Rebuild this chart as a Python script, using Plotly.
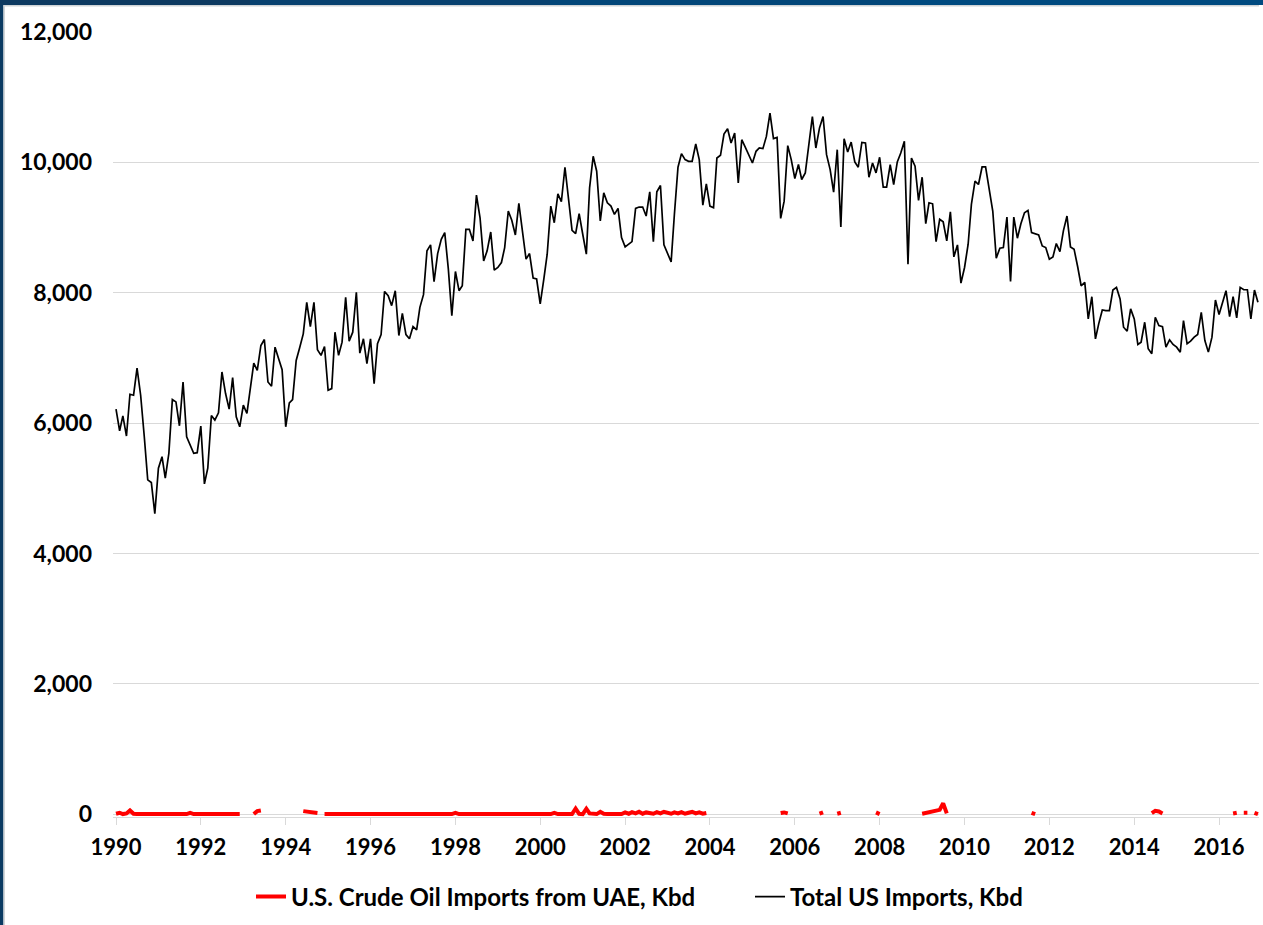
import pandas as pd
import plotly.graph_objects as go

# Monthly values, Jan 1990 - Dec 2016 (Kbd)
dates = pd.date_range("1990-01-01", "2016-12-01", freq="MS")

total_imports = [
    6215, 5884, 6113, 5803, 6444, 6429, 6846, 6429, 5800, 5131, 5090, 4612,
    5309, 5487, 5157, 5539, 6363, 6327, 5960, 6632, 5792, 5680, 5539, 5548,
    5955, 5070, 5309, 6118, 6047, 6158, 6785, 6455, 6215, 6698, 6097, 5945,
    6276, 6149, 6505, 6922, 6810, 7192, 7284, 6632, 6566, 7166, 6989, 6821,
    5945, 6311, 6363, 6963, 7157, 7370, 7854, 7482, 7854, 7126, 7040, 7177,
    6505, 6531, 7396, 7040, 7243, 7930, 7258, 7396, 8006, 7075, 7294, 6913,
    7294, 6607, 7218, 7360, 8021, 7956, 7803, 8032, 7345, 7685, 7360, 7294,
    7482, 7432, 7777, 7971, 8643, 8735, 8170, 8602, 8821, 8923, 8363, 7650,
    8327, 8032, 8108, 8974, 8974, 8796, 9498, 9151, 8490, 8643, 8933, 8348,
    8388, 8464, 8693, 9254, 9112, 8887, 9372, 8898, 8516, 8602, 8226, 8211,
    7829, 8211, 8592, 9330, 9075, 9518, 9396, 9926, 9448, 8959, 8908, 9213,
    8898, 8592, 9610, 10094, 9865, 9101, 9533, 9381, 9330, 9203, 9295, 8846,
    8704, 8745, 8785, 9295, 9315, 9315, 9177, 9549, 8785, 9549, 9646, 8735,
    8617, 8475, 9200, 9926, 10134, 10043, 10017, 10017, 10282, 10043, 9345, 9671,
    9330, 9304, 10068, 10109, 10435, 10517, 10297, 10450, 9686, 10348, 10231, 10109,
    9991, 10170, 10221, 10211, 10399, 10755, 10364, 10384, 9142, 9406, 10257, 10043,
    9753, 9967, 9738, 9839, 10297, 10704, 10221, 10526, 10704, 10119, 9890, 9544,
    10195, 9009, 10364, 10160, 10312, 10007, 9926, 10307, 10297, 9773, 9991, 9839,
    10078, 9620, 9620, 9967, 9661, 10007, 10144, 10323, 8440, 10068, 9941, 9417,
    9773, 9060, 9381, 9365, 8785, 9127, 9090, 8796, 9243, 8551, 8735, 8149,
    8388, 8745, 9355, 9712, 9661, 9930, 9930, 9600, 9254, 8531, 8684, 8694,
    9162, 8174, 9162, 8837, 9060, 9228, 9264, 8923, 8908, 8887, 8719, 8694,
    8516, 8551, 8755, 8633, 8949, 9177, 8704, 8669, 8399, 8108, 8159, 7600,
    7940, 7294, 7523, 7737, 7727, 7727, 8042, 8083, 7905, 7472, 7411, 7753,
    7600, 7207, 7243, 7548, 7141, 7065, 7625, 7498, 7482, 7166, 7279, 7207,
    7166, 7090, 7574, 7218, 7258, 7319, 7360, 7701, 7268, 7090, 7319, 7890,
    7666, 7869, 8032, 7635, 7940, 7615, 8083, 8047, 8047, 7600, 8042, 7854,
]

N = None
uae_imports = [
    10, 25, 5, 15, 60, 10, 5, 5, 5, 5, 5, 5,            # 1990
    5, 5, 5, 5, 5, 5, 5, 5, 5, 25, 5, 5,                # 1991
    5, 5, 5, 5, 5, 5, 5, 5, 5, 5, 5, 5,                 # 1992
    N, N, N, 5, 50, 60, N, N, N, N, N, N,               # 1993
    N, N, N, N, N, 50, 40, 30, 25, 20, N, 5,            # 1994
    5, 5, 5, 5, 5, 20, 5, 5, 5, 5, 5, 5,                # 1995
    5, 5, 5, 20, 5, 5, 5, 20, 5, 5, 5, 5,               # 1996
    5, 5, 5, 5, 5, 5, 5, 5, 5, 5, 5, 5,                 # 1997
    25, 5, 5, 5, 5, 5, 5, 5, 5, 5, 5, 5,                # 1998
    5, 5, 5, 5, 5, 5, 5, 5, 5, 5, 5, 20,                # 1999
    5, 5, 5, 5, 25, 5, 5, 5, 5, 5, 90, 10,              # 2000
    5, 85, 15, 5, 5, 40, 10, 5, 5, 5, 5, 5,             # 2001
    30, 10, 35, 15, 40, 10, 30, 20, 10, 35, 15, 40,     # 2002
    20, 10, 30, 15, 35, 10, 25, 40, 15, 30, 10, 20,     # 2003
    N, N, N, N, N, N, N, N, N, N, N, N,                 # 2004
    N, N, N, N, N, N, N, N, 20, 30, 15, N,              # 2005
    N, N, N, N, N, N, N, 10, 30, N, N, N,               # 2006
    10, 25, N, N, N, N, N, N, N, N, N, 30,              # 2007
    5, N, N, N, N, N, N, N, N, N, N, N,                 # 2008
    10, 20, 30, 35, 45, 70, 170, 15, N, N, N, N,        # 2009
    N, N, N, N, N, N, N, N, N, N, N, N,                 # 2010
    N, N, N, N, N, N, N, 25, 5, N, N, N,                # 2011
    N, N, N, N, N, N, N, N, N, N, N, N,                 # 2012
    N, N, N, N, N, N, N, N, N, N, N, N,                 # 2013
    N, N, N, N, N, 20, 55, 45, 15, N, N, N,             # 2014
    N, N, N, N, N, N, N, N, N, N, N, N,                 # 2015
    N, N, N, N, 15, 25, N, 25, 25, N, 25, 5,            # 2016
]

series_names = ["U.S. Crude Oil Imports from UAE, Kbd", "Total US Imports, Kbd"]
y_ticks = [0, 2000, 4000, 6000, 8000, 10000, 12000]

FONT = "Lato"
fig = go.Figure()
fig.add_trace(go.Scatter(x=dates, y=uae_imports, mode="lines", name=series_names[0],
                         line=dict(color="#ff0000", width=4), connectgaps=False,
                         legendwidth=454))
fig.add_trace(go.Scatter(x=dates, y=total_imports, mode="lines", name=series_names[1],
                         line=dict(color="#000000", width=1.7)))

W, H = 1263, 925
ml, mr, mt, mb = 113, 4, 32, 108
pw, ph = W - ml - mr, H - mt - mb

def px(xp):
    return (xp - ml) / pw

def py(yp):
    return 1 - (yp - mt) / ph

shapes = []
# slide frame (top navy band + left navy band)
band_cols = ["#0d3960", "#07416f", "#024679", "#004a80"]
segs = [0, 250, 550, 900, 1263]
for i, c in enumerate(band_cols):
    shapes.append(dict(type="rect", xref="paper", yref="paper", x0=px(segs[i]), x1=px(segs[i + 1]),
                       y0=py(5), y1=py(-2), fillcolor=c, line=dict(width=0), layer="above"))
shapes.append(dict(type="rect", xref="paper", yref="paper", x0=px(-2), x1=px(3.5),
                   y0=py(H + 5), y1=py(5), fillcolor="#0b3a62", line=dict(width=0), layer="above"))
shapes.append(dict(type="line", xref="paper", yref="paper", x0=px(3.5), x1=px(1259),
                   y0=py(5.8), y1=py(5.8), line=dict(color="#cfd3d6", width=1.5), layer="above"))
shapes.append(dict(type="line", xref="paper", yref="paper", x0=px(4.2), x1=px(4.2),
                   y0=py(H + 5), y1=py(5.8), line=dict(color="#cfd3d6", width=1.5), layer="above"))

fig.update_layout(
    width=W, height=H,
    margin=dict(l=ml, r=mr, t=mt, b=mb),
    paper_bgcolor="white", plot_bgcolor="white",
    font=dict(family=FONT, size=22, color="#000000", weight="bold"),
    showlegend=True,
    legend=dict(orientation="h", x=px(251), xanchor="left", y=py(897), yanchor="middle",
                font=dict(family=FONT, size=24, color="#000000", weight="bold"),
                itemwidth=30, tracegroupgap=0),
    shapes=shapes,
)
fig.update_xaxes(
    range=["1989-12-06", "2016-12-10"],
    tickmode="linear", tick0="1990-01-01", dtick="M24", tickformat="%Y",
    showgrid=False, showline=True, linecolor="#d9d9d9", linewidth=1,
    ticks="outside", ticklen=7, tickcolor="#d9d9d9", tickwidth=1,
    tickfont=dict(family=FONT, size=22, color="#000000", weight="bold"),
    ticklabelstandoff=4,
)
fig.update_yaxes(
    range=[-40, 12000], tickvals=y_ticks, tickformat=",d",
    showgrid=True, gridcolor="#d9d9d9", gridwidth=1,
    zeroline=False, showline=False, ticks="",
    tickfont=dict(family=FONT, size=23, color="#000000", weight="bold"),
    ticklabelstandoff=20,
)

fig.write_html("out.html", config={"displayModeBar": False},
               post_script="document.body.style.margin='0';document.body.style.overflow='hidden';")
